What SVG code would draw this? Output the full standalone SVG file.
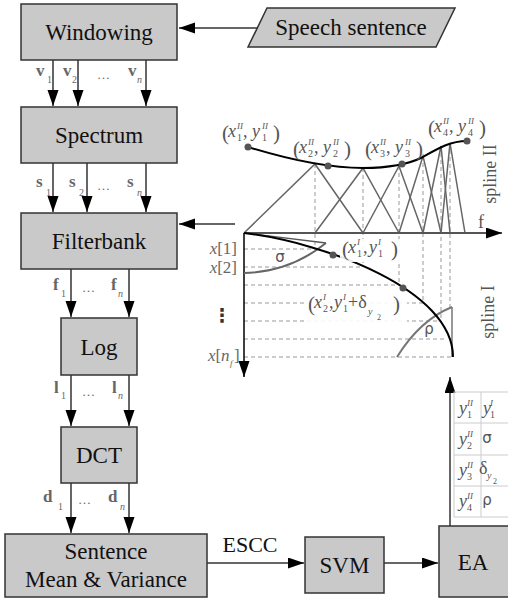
<svg xmlns="http://www.w3.org/2000/svg" width="508" height="599" viewBox="0 0 508 599">
<defs>
<marker id="ah" markerUnits="userSpaceOnUse" markerWidth="17" markerHeight="12" refX="16" refY="5.5" orient="auto">
<path d="M0,0 L16,5.5 L0,11 z" fill="#000"/>
</marker>
<style>
.box{fill:#c9c9c9;stroke:#333;stroke-width:1.5}
.t{font-family:"Liberation Serif",serif;font-size:23px;fill:#111;text-anchor:middle}
.lbl{font-family:"Liberation Serif",serif;font-weight:bold;font-size:17px;fill:#666}
.sb{font-family:"Liberation Serif",serif;font-size:10px;fill:#666;font-weight:normal}
.sbi{font-family:"Liberation Serif",serif;font-size:10px;fill:#666;font-style:italic;font-weight:normal}
.dots{font-family:"Liberation Serif",serif;font-size:13px;fill:#666}
.conn{stroke:#333;stroke-width:1.5;fill:none}
.dash{stroke:#999;stroke-width:1;stroke-dasharray:4 3;fill:none}
.tri{stroke:#666;stroke-width:1.5;fill:none}
.m{font-family:"Liberation Serif",serif;font-size:18px;fill:#555}
.it{font-style:italic}
.sup{font-size:9px;font-style:italic}
.sub{font-size:10px}
.par{font-size:21px}
.g{font-family:"DejaVu Sans",sans-serif;font-size:15px;fill:#555}
.ax{font-family:"Liberation Serif",serif;font-size:17px;fill:#666}
.tbl{stroke:#ccc;stroke-width:1;fill:none}
</style>
</defs>

<!-- nodes -->
<g id="windowing"><rect class="box" x="21" y="4" width="156" height="56"/><text class="t" x="99" y="40" style="font-family:'Liberation Serif',serif;font-size:23px">Windowing</text></g>
<g id="speech"><polygon class="box" points="267,8 455,8 436,47 248,47"/><text class="t" x="351" y="35" style="font-family:'Liberation Serif',serif;font-size:23px">Speech sentence</text></g>
<g id="spectrum"><rect class="box" x="21" y="107" width="156" height="56"/><text class="t" x="99" y="143" style="font-family:'Liberation Serif',serif;font-size:23px">Spectrum</text></g>
<g id="filterbank"><rect class="box" x="21" y="213" width="156" height="56"/><text class="t" x="99" y="249" style="font-family:'Liberation Serif',serif;font-size:23px">Filterbank</text></g>
<g id="log"><rect class="box" x="61" y="318" width="76" height="57"/><text class="t" x="99" y="355" style="font-family:'Liberation Serif',serif;font-size:23px">Log</text></g>
<g id="dct"><rect class="box" x="61" y="427" width="76" height="56"/><text class="t" x="99" y="463" style="font-family:'Liberation Serif',serif;font-size:23px">DCT</text></g>
<g id="sentence"><rect class="box" x="5" y="534" width="202" height="63"/><text class="t" x="106" y="559" style="font-family:'Liberation Serif',serif;font-size:23px">Sentence</text><text class="t" x="106" y="587" style="font-family:'Liberation Serif',serif;font-size:23px">Mean &amp; Variance</text></g>
<g id="svm"><rect class="box" x="305" y="537" width="79" height="56"/><text class="t" x="344.5" y="573" style="font-family:'Liberation Serif',serif;font-size:23px">SVM</text></g>
<g id="ea"><rect class="box" x="439" y="526" width="75" height="71"/><text class="t" x="473" y="570" style="font-family:'Liberation Serif',serif;font-size:23px">EA</text></g>

<!-- connectors -->
<g id="connectors">
<line class="conn" x1="257" y1="28" x2="179" y2="28" marker-end="url(#ah)"/>
<line class="conn" x1="53" y1="60" x2="53" y2="106" marker-end="url(#ah)"/>
<line class="conn" x1="78" y1="60" x2="78" y2="106" marker-end="url(#ah)"/>
<line class="conn" x1="146" y1="60" x2="146" y2="106" marker-end="url(#ah)"/>
<line class="conn" x1="53" y1="163" x2="53" y2="212" marker-end="url(#ah)"/>
<line class="conn" x1="87" y1="163" x2="87" y2="212" marker-end="url(#ah)"/>
<line class="conn" x1="146" y1="163" x2="146" y2="212" marker-end="url(#ah)"/>
<line class="conn" x1="71" y1="269" x2="71" y2="317" marker-end="url(#ah)"/>
<line class="conn" x1="129" y1="269" x2="129" y2="317" marker-end="url(#ah)"/>
<line class="conn" x1="71" y1="375" x2="71" y2="426" marker-end="url(#ah)"/>
<line class="conn" x1="129" y1="375" x2="129" y2="426" marker-end="url(#ah)"/>
<line class="conn" x1="71" y1="483" x2="71" y2="533" marker-end="url(#ah)"/>
<line class="conn" x1="129" y1="483" x2="129" y2="533" marker-end="url(#ah)"/>
<line class="conn" x1="235" y1="224" x2="179" y2="224" marker-end="url(#ah)"/>
<line class="conn" x1="207" y1="563" x2="304" y2="563" marker-end="url(#ah)"/>
<line class="conn" x1="384" y1="563" x2="438" y2="563" marker-end="url(#ah)"/>
<line class="conn" x1="450" y1="526" x2="450" y2="377" marker-end="url(#ah)"/>
</g>

<!-- connector labels -->
<g id="arrow-labels">
<text class="lbl" x="36" y="76">v</text><text class="sb" x="47" y="83">1</text>
<text class="lbl" x="63" y="76">v</text><text class="sb" x="72" y="83">2</text>
<text class="dots" x="97" y="79">…</text>
<text class="lbl" x="128" y="76">v</text><text class="sbi" x="137" y="83">n</text>
<text class="lbl" x="36" y="187">s</text><text class="sb" x="46" y="196">1</text>
<text class="lbl" x="69" y="187">s</text><text class="sb" x="79" y="196">2</text>
<text class="dots" x="97" y="190">…</text>
<text class="lbl" x="127" y="187">s</text><text class="sbi" x="137" y="196">n</text>
<text class="lbl" x="53" y="290">f</text><text class="sb" x="61" y="297">1</text>
<text class="dots" x="82" y="292">…</text>
<text class="lbl" x="111" y="290">f</text><text class="sbi" x="118" y="297">n</text>
<text class="lbl" x="54" y="393">l</text><text class="sb" x="61" y="399">1</text>
<text class="dots" x="82" y="396">…</text>
<text class="lbl" x="112" y="393">l</text><text class="sbi" x="118" y="399">n</text>
<text class="lbl" x="43" y="502">d</text><text class="sb" x="58" y="510">1</text>
<text class="dots" x="78" y="504">…</text>
<text class="lbl" x="108" y="502">d</text><text class="sbi" x="120" y="510">n</text>
<text class="t" x="250" y="552" style="font-family:'Liberation Serif',serif;font-size:22px">ESCC</text>
</g>

<!-- chart -->
<g id="chart">
<g id="grid">
<line class="dash" x1="315" y1="164" x2="315" y2="249"/>
<line class="dash" x1="363" y1="168" x2="363" y2="267"/>
<line class="dash" x1="399" y1="166" x2="399" y2="285"/>
<line class="dash" x1="423" y1="156" x2="423" y2="303"/>
<line class="dash" x1="441" y1="146" x2="441" y2="321"/>
<line class="dash" x1="450" y1="143" x2="450" y2="307"/>
<line class="dash" x1="244" y1="249" x2="315" y2="249"/>
<line class="dash" x1="244" y1="267" x2="363" y2="267"/>
<line class="dash" x1="244" y1="285" x2="399" y2="285"/>
<line class="dash" x1="244" y1="303" x2="423" y2="303"/>
<line class="dash" x1="244" y1="321" x2="438" y2="321"/>
<line class="dash" x1="244" y1="339" x2="447" y2="339"/>
<line class="dash" x1="244" y1="357" x2="453" y2="357"/>
</g>
<g id="filters">
<polyline class="tri" points="244,233 315,164 363,233"/>
<polyline class="tri" points="315,233 363,168 399,233"/>
<polyline class="tri" points="363,233 399,166 423,233"/>
<polyline class="tri" points="399,233 423,156 441,233"/>
<polyline class="tri" points="423,233 441,146 450,233"/>
<polyline class="tri" points="441,233 450,143 465,233"/>
</g>
<line x1="244" y1="233" x2="502" y2="233" stroke="#555" stroke-width="2" marker-end="url(#ah)"/>
<line x1="244" y1="233" x2="244" y2="377" stroke="#000" stroke-width="1.5" marker-end="url(#ah)"/>
<text class="m" x="478" y="228">f</text>

<!-- spline II -->
<path d="M248,147 C290,160 330,168 363,168 C385,168 405,166 423,157 C437,149 450,141 467,141" fill="none" stroke="#000" stroke-width="2"/>
<circle cx="248" cy="147" r="3.5" fill="#555"/>
<circle cx="328" cy="166" r="3.5" fill="#555"/>
<circle cx="402" cy="164" r="3.5" fill="#555"/>
<circle cx="467" cy="141" r="3.5" fill="#555"/>

<!-- spline I -->
<line x1="244" y1="233" x2="326" y2="243" stroke="#555" stroke-width="1.3"/>
<path d="M244,273 Q290,272 326,243" fill="none" stroke="#666" stroke-width="2"/>
<path d="M397,357 Q420,320 452,307" fill="none" stroke="#777" stroke-width="2"/>
<line x1="452" y1="307" x2="452" y2="357" stroke="#777" stroke-width="1.5"/>
<path d="M244,233 C326,243 453,290 453,357" fill="none" stroke="#000" stroke-width="2"/>
<circle cx="333" cy="255" r="3.5" fill="#555"/>
<circle cx="403" cy="288" r="3.5" fill="#555"/>
<text class="g" x="280" y="262" text-anchor="middle">σ</text>
<text class="g" x="429" y="334" text-anchor="middle">ρ</text>

<rect x="340" y="239" width="60" height="23" fill="#fff" opacity="0.9"/>
<rect x="305" y="292" width="102" height="30" fill="#fff" opacity="0.9"/>

<!-- point labels -->
<text class="m"><tspan class="par" x="222" y="140">(</tspan><tspan class="it" x="228" y="137">x</tspan><tspan class="sup" x="237" y="129">II</tspan><tspan class="sub" x="237" y="141">1</tspan><tspan x="243" y="137">,</tspan><tspan class="it" x="252" y="137">y</tspan><tspan class="sup" x="262" y="129">II</tspan><tspan class="sub" x="262" y="141">1</tspan><tspan class="par" x="273" y="140">)</tspan></text>
<text class="m"><tspan class="par" x="293" y="156">(</tspan><tspan class="it" x="299" y="153">x</tspan><tspan class="sup" x="308" y="145">II</tspan><tspan class="sub" x="308" y="157">2</tspan><tspan x="314" y="153">,</tspan><tspan class="it" x="323" y="153">y</tspan><tspan class="sup" x="333" y="145">II</tspan><tspan class="sub" x="333" y="157">2</tspan><tspan class="par" x="344" y="156">)</tspan></text>
<text class="m"><tspan class="par" x="365" y="156">(</tspan><tspan class="it" x="371" y="153">x</tspan><tspan class="sup" x="380" y="145">II</tspan><tspan class="sub" x="380" y="157">3</tspan><tspan x="386" y="153">,</tspan><tspan class="it" x="395" y="153">y</tspan><tspan class="sup" x="405" y="145">II</tspan><tspan class="sub" x="405" y="157">3</tspan><tspan class="par" x="416" y="156">)</tspan></text>
<text class="m"><tspan class="par" x="428" y="135">(</tspan><tspan class="it" x="434" y="132">x</tspan><tspan class="sup" x="443" y="124">II</tspan><tspan class="sub" x="443" y="136">4</tspan><tspan x="449" y="132">,</tspan><tspan class="it" x="458" y="132">y</tspan><tspan class="sup" x="468" y="124">II</tspan><tspan class="sub" x="468" y="136">4</tspan><tspan class="par" x="479" y="135">)</tspan></text>
<text class="m"><tspan class="par" x="342" y="256">(</tspan><tspan class="it" x="348" y="253">x</tspan><tspan class="sup" x="357" y="245">I</tspan><tspan class="sub" x="357" y="257">1</tspan><tspan x="363" y="253">,</tspan><tspan class="it" x="369" y="253">y</tspan><tspan class="sup" x="378" y="245">I</tspan><tspan class="sub" x="378" y="257">1</tspan><tspan class="par" x="391" y="256">)</tspan></text>
<text class="m"><tspan class="par" x="308" y="311">(</tspan><tspan class="it" x="314" y="308">x</tspan><tspan class="sup" x="323" y="300">I</tspan><tspan class="sub" x="323" y="312">2</tspan><tspan x="329" y="308">,</tspan><tspan class="it" x="334" y="308">y</tspan><tspan class="sup" x="343" y="300">I</tspan><tspan class="sub" x="343" y="312">1</tspan><tspan x="348" y="308">+δ</tspan><tspan class="sub it" x="368" y="315">y</tspan><tspan class="sub" x="377" y="320" style="font-size:8px">2</tspan><tspan class="par" x="393" y="311">)</tspan></text>

<!-- axis labels -->
<text class="ax" x="237" y="254" text-anchor="end"><tspan class="it">x</tspan>[1]</text>
<text class="ax" x="237" y="273" text-anchor="end"><tspan class="it">x</tspan>[2]</text>
<text x="222" y="322" text-anchor="middle" style="font-family:'DejaVu Sans',sans-serif;font-size:19px;font-weight:bold;fill:#333">⋮</text>
<text class="ax"><tspan class="it" x="208" y="361">x</tspan><tspan x="215.5" y="361">[</tspan><tspan class="it" x="221" y="361">n</tspan><tspan class="it" x="230" y="366" style="font-size:9px">f</tspan><tspan x="234" y="361">]</tspan></text>

<text class="m" transform="translate(496,174) rotate(-90)" text-anchor="middle">spline II</text>
<text class="m" transform="translate(494,312) rotate(-90)" text-anchor="middle">spline I</text>
</g>

<!-- parameter table -->
<g id="table">
<rect class="tbl" x="454" y="392" width="60" height="125"/>
<line class="tbl" x1="454" y1="423" x2="514" y2="423"/>
<line class="tbl" x1="454" y1="455" x2="514" y2="455"/>
<line class="tbl" x1="454" y1="486" x2="514" y2="486"/>
<line class="tbl" x1="481" y1="392" x2="481" y2="517"/>
<text class="m"><tspan class="it" x="459" y="414">y</tspan><tspan class="sup" x="467" y="406">II</tspan><tspan class="sub" x="467" y="418">1</tspan></text>
<text class="m"><tspan class="it" x="483" y="414">y</tspan><tspan class="sup" x="490" y="406">I</tspan><tspan class="sub" x="490" y="418">1</tspan></text>
<text class="m"><tspan class="it" x="459" y="445">y</tspan><tspan class="sup" x="467" y="437">II</tspan><tspan class="sub" x="467" y="449">2</tspan></text>
<text class="g" x="487" y="443" text-anchor="middle">σ</text>
<text class="m"><tspan class="it" x="459" y="476">y</tspan><tspan class="sup" x="467" y="468">II</tspan><tspan class="sub" x="467" y="480">3</tspan></text>
<text class="m"><tspan x="479" y="474">δ</tspan><tspan class="sub it" x="487" y="479">y</tspan><tspan class="sub" x="493" y="484" style="font-size:8px">2</tspan></text>
<text class="m"><tspan class="it" x="459" y="507">y</tspan><tspan class="sup" x="467" y="499">II</tspan><tspan class="sub" x="467" y="511">4</tspan></text>
<text class="g" x="487" y="505" text-anchor="middle">ρ</text>
</g>
</svg>
